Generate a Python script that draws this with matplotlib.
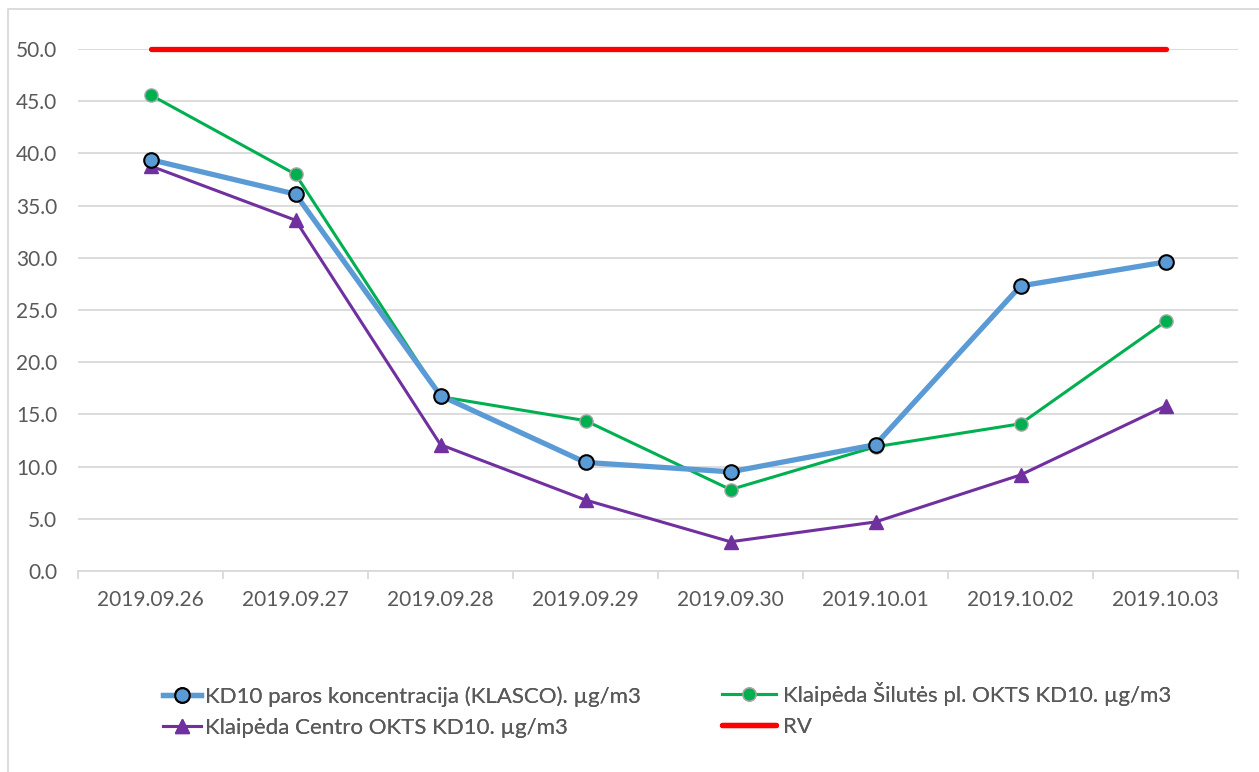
import matplotlib.pyplot as plt
from matplotlib.lines import Line2D

#
# Data
#

dates = ["2019.09.26", "2019.09.27", "2019.09.28", "2019.09.29",
         "2019.09.30", "2019.10.01", "2019.10.02", "2019.10.03"]
klasco = [39.4, 36.1, 16.8, 10.4, 9.5, 12.1, 27.3, 29.6]
silutes = [45.6, 38.0, 16.7, 14.4, 7.8, 11.9, 14.1, 23.9]
centro = [38.8, 33.6, 12.1, 6.8, 2.8, 4.7, 9.2, 15.8]
rv = [50.0] * len(dates)
y_ticks = [0, 5, 10, 15, 20, 25, 30, 35, 40, 45, 50]

#
# Graph
#

plt.rcParams["font.family"] = ["Lato", "DejaVu Sans"]
text_color = "#595959"
grid_color = "#d9d9d9"
font_size = 15

W, H = 1259, 772
fig = plt.figure(figsize=(W / 100, H / 100), dpi=100)
ax = fig.add_axes([78 / W, 1 - 571 / H, (1238 - 78) / W, (571 - 49) / H])

x = list(range(len(dates)))

ax.plot(x, rv, color="#ff0000", linewidth=3.8, solid_capstyle="round",
        label="RV", zorder=3, clip_on=False)
ax.plot(x, centro, color="#7030a0", linewidth=2.2, marker="^", markersize=10,
        markerfacecolor="#7030a0", markeredgecolor="#7030a0",
        label="Klaipėda Centro OKTS KD10. µg/m3", zorder=4, clip_on=False)
ax.plot(x, silutes, color="#00b050", linewidth=2.2, marker="o", markersize=9.5,
        markerfacecolor="#00b050", markeredgecolor="#a6a6a6", markeredgewidth=1.0,
        label="Klaipėda Šilutės pl. OKTS KD10. µg/m3", zorder=5, clip_on=False)
ax.plot(x, klasco, color="#5b9bd5", linewidth=3.8, marker="o", markersize=10.5,
        markerfacecolor="#5b9bd5", markeredgecolor="black", markeredgewidth=1.5,
        label="KD10 paros koncentracija (KLASCO). µg/m3", zorder=6, clip_on=False)

ax.set_xlim(-0.5, len(dates) - 0.5)
ax.set_ylim(0, 50)
ax.set_yticks(y_ticks)
ax.set_yticklabels([f"{v:.1f}" for v in y_ticks])
ax.set_xticks(x)
ax.set_xticklabels(dates)
ax.set_xticks([i - 0.5 for i in range(len(dates) + 1)], minor=True)

ax.grid(axis="y", color=grid_color, linewidth=1.3)
ax.set_axisbelow(True)
for side in ["top", "right", "left"]:
    ax.spines[side].set_visible(False)
ax.spines["bottom"].set_color(grid_color)
ax.spines["bottom"].set_linewidth(1.3)

ax.tick_params(axis="y", length=0, pad=15, labelsize=font_size, labelcolor=text_color)
ax.tick_params(axis="x", which="major", length=0, pad=14, labelsize=font_size, labelcolor=text_color)
ax.tick_params(axis="x", which="minor", length=6, width=1.3, color=grid_color)

# Legend: two single-column legends so the columns sit where the reference has them
handles, labels = ax.get_legend_handles_labels()
by_label = dict(zip(labels, handles))
columns = [
    (163, 686, 1.7, 0.2, ["KD10 paros koncentracija (KLASCO). µg/m3", "Klaipėda Centro OKTS KD10. µg/m3"]),
    (722, 682, 2.45, 0.3, ["Klaipėda Šilutės pl. OKTS KD10. µg/m3", "RV"]),
]
for left, top, handle_len, text_pad, names in columns:
    leg = fig.legend([by_label[n] for n in names], names, loc="upper left",
                     bbox_to_anchor=(left / W, 1 - top / H), borderaxespad=0,
                     borderpad=0, frameon=False, fontsize=16,
                     labelcolor=text_color, handlelength=handle_len,
                     handletextpad=text_pad, labelspacing=0.5)
    fig.add_artist(leg)

# Outer chart border (only left and top edges show in the reference)
fig.add_artist(Line2D([8 / W, 8 / W, 1], [0, 1 - 9 / H, 1 - 9 / H],
                      transform=fig.transFigure, color=grid_color, linewidth=1.3))

fig.savefig("out.png", dpi=100)
